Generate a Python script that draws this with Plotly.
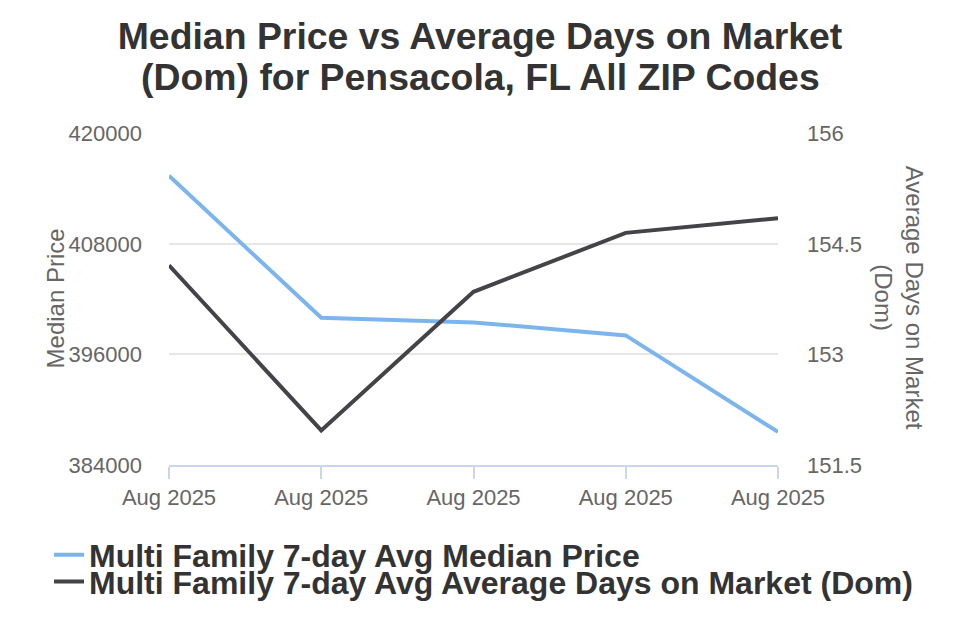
import plotly.graph_objects as go

x_idx = [0, 1, 2, 3, 4]
x_labels = ["Aug 2025", "Aug 2025", "Aug 2025", "Aug 2025", "Aug 2025"]
median_price = [415400, 399990, 399480, 398070, 387590]
avg_dom = [154.21, 151.97, 153.85, 154.65, 154.85]

name_price = "Multi Family 7-day Avg Median Price"
name_dom = "Multi Family 7-day Avg Average Days on Market (Dom)"
title_line1 = "Median Price vs Average Days on Market"
title_line2 = "(Dom) for Pensacola, FL All ZIP Codes"

FONT = "Liberation Sans, Arial, sans-serif"
legend_font = dict(family=FONT, size=32, color="#333333", weight="bold")
title_font = dict(family=FONT, size=37.4, color="#333333")

fig = go.Figure()
fig.add_trace(go.Scatter(x=x_idx, y=median_price, mode="lines", name=name_price,
                         line=dict(color="#7cb5ec", width=4), yaxis="y", legend="legend"))
fig.add_trace(go.Scatter(x=x_idx, y=avg_dom, mode="lines", name=name_dom,
                         line=dict(color="#434348", width=4), yaxis="y2", legend="legend2"))

fig.update_layout(
    width=960, height=640,
    showlegend=True,
    paper_bgcolor="white", plot_bgcolor="white",
    margin=dict(l=169, r=182, t=133, b=175),
    font=dict(family=FONT, color="#666666"),
    title=dict(text="<b>" + title_line1 + "</b>",
               x=0.5, xanchor="center", xref="container", y=1 - 36 / 640, yanchor="middle", yref="container",
               font=title_font),
    xaxis=dict(range=[0, 4], tickvals=x_idx, ticktext=x_labels, showgrid=False,
               showline=True, linecolor="#ccd6eb", linewidth=1.5,
               ticks="outside", ticklen=12, tickcolor="#ccd6eb", tickwidth=1.5,
               tickfont=dict(size=22, color="#666666"), zeroline=False),
    yaxis=dict(range=[384000, 420040], tickvals=[384000, 396000, 408000, 420000], showgrid=True,
               gridcolor="#e6e6e6", gridwidth=1.5, zeroline=False, showline=False,
               tickfont=dict(size=22, color="#666666"), ticklabelstandoff=26,
               tickformat="d"),
    yaxis2=dict(range=[151.5, 156.005], tickvals=[151.5, 153, 154.5, 156], overlaying="y", side="right",
                showgrid=False, zeroline=False, showline=False,
                tickfont=dict(size=22, color="#666666"), ticklabelstandoff=28),
    legend=dict(x=-0.197, xanchor="left", y=-0.188, yanchor="top", orientation="v",
                font=legend_font, bgcolor="rgba(0,0,0,0)"),
    legend2=dict(x=-0.197, xanchor="left", y=-0.269, yanchor="top", orientation="v",
                 font=legend_font, bgcolor="rgba(0,0,0,0)"),
    annotations=[
        dict(text="<b>" + title_line2 + "</b>", x=(480 - 169) / 609, y=(465 - 77) / 332,
             xref="paper", yref="paper",
             xanchor="center", yanchor="middle", showarrow=False, font=title_font),
        dict(text="Median Price", x=-0.212, y=0.503, xref="paper", yref="paper",
             showarrow=False, textangle=-90, font=dict(size=24, color="#666666")),
        dict(text="Average Days on Market<br>(Dom)", x=1.25, y=0.503, xref="paper", yref="paper",
             showarrow=False, textangle=90, font=dict(size=24, color="#666666")),
    ],
)

fig.write_html("out.html")
